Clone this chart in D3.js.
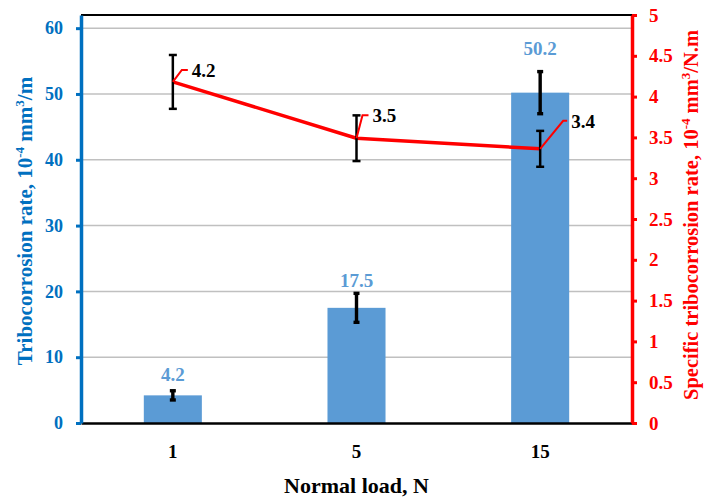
<!DOCTYPE html>
<html>
<head>
<meta charset="utf-8">
<script src="https://cdn.jsdelivr.net/npm/d3@7"></script>
</head>
<body style="margin:0;background:#fff">
<div id="chart"></div>
<script>
var loads = ["1", "5", "15"]
var rate = [4.2, 17.5, 50.2]           // tribocorrosion rate, 10^-4 mm3/m
var rateErr = [0.7, 2.2, 3.2]
var specific = [4.18, 3.49, 3.36]      // specific rate, 10^-4 mm3/N.m
var specificErr = [0.33, 0.28, 0.22]
var specificLabels = ["4.2", "3.5", "3.4"]
var leftTicks = [0, 10, 20, 30, 40, 50, 60]
var rightTicks = [0, 0.5, 1, 1.5, 2, 2.5, 3, 3.5, 4, 4.5, 5]

var width = 705, height = 498
var margin = {top: 15, left: 81, right: 73, bottom: 75}
var blue = "#0070C0", barBlue = "#5B9BD5", red = "#FF0000"
var serif = "Liberation Serif"
// manually placed labels (as in the original): bar label lift, leader ends
var barLabelLift = [14, 21, 38]
var labelOffsets = [[9, -12, 6], [6, -23, 6], [23, -28, 4]]

var svg = d3.select("#chart").append("svg")
	.attr("width", width).attr("height", height)
	.attr("font-family", serif).attr("font-weight", "bold")

var x = d3.scaleBand().domain(loads)
	.range([margin.left, width - margin.right]).paddingInner(0.684).paddingOuter(0.342)
var yL = d3.scaleLinear().domain([0, 62]).range([height - margin.bottom, margin.top])
var yR = d3.scaleLinear().domain([0, 5]).range([height - margin.bottom, margin.top])
var cx = function(d, i) { return x(loads[i]) + x.bandwidth() / 2 }

// gridlines
svg.append("g").selectAll("line").data(leftTicks.slice(1)).enter().append("line")
	.attr("x1", margin.left).attr("x2", width - margin.right)
	.attr("y1", function(d) { return yL(d) }).attr("y2", function(d) { return yL(d) })
	.attr("stroke", "#c0c0c0").attr("stroke-width", 1.5)

// top frame
svg.append("line")
	.attr("x1", margin.left).attr("x2", width - margin.right)
	.attr("y1", margin.top).attr("y2", margin.top)
	.attr("stroke", "#000").attr("stroke-width", 2)

// bars
svg.append("g").selectAll("rect").data(rate).enter().append("rect")
	.attr("x", function(d, i) { return x(loads[i]) })
	.attr("width", x.bandwidth())
	.attr("y", function(d) { return yL(d) })
	.attr("height", function(d) { return yL(0) - yL(d) })
	.attr("fill", barBlue)

function errorBars(g, vals, errs, scale, cap, sw) {
	var eb = g.append("g").selectAll("g").data(vals).enter().append("g")
		.attr("stroke", "#000").attr("stroke-width", sw)
	eb.append("line")
		.attr("x1", cx).attr("x2", cx)
		.attr("y1", function(d, i) { return scale(d + errs[i]) })
		.attr("y2", function(d, i) { return scale(d - errs[i]) })
	eb.append("line")
		.attr("x1", function(d, i) { return cx(d, i) - cap }).attr("x2", function(d, i) { return cx(d, i) + cap })
		.attr("y1", function(d, i) { return scale(d + errs[i]) })
		.attr("y2", function(d, i) { return scale(d + errs[i]) })
	eb.append("line")
		.attr("x1", function(d, i) { return cx(d, i) - cap }).attr("x2", function(d, i) { return cx(d, i) + cap })
		.attr("y1", function(d, i) { return scale(d - errs[i]) })
		.attr("y2", function(d, i) { return scale(d - errs[i]) })
}
errorBars(svg, rate, rateErr, yL, 3, 3.4)

// bar value labels
svg.append("g").selectAll("text").data(rate).enter().append("text")
	.attr("x", cx)
	.attr("y", function(d, i) { return yL(d) - barLabelLift[i] })
	.attr("text-anchor", "middle").attr("font-size", 19).attr("fill", barBlue)
	.text(function(d) { return d3.format(".1f")(d) })

// specific rate line
var line = d3.line().x(function(d, i) { return cx(d, i) }).y(function(d) { return yR(d) })
svg.append("path").datum(specific)
	.attr("d", line).attr("fill", "none")
	.attr("stroke", red).attr("stroke-width", 3.5).attr("stroke-linejoin", "round")

errorBars(svg, specific, specificErr, yR, 4, 2.5)

// leader lines and labels
var lab = svg.append("g").selectAll("g").data(specific).enter().append("g")
lab.append("path")
	.attr("d", function(d, i) {
		var px = cx(d, i), py = yR(d), o = labelOffsets[i]
		return "M" + px + "," + py + "L" + (px + o[0]) + "," + (py + o[1]) + "h" + o[2]
	})
	.attr("fill", "none").attr("stroke", red).attr("stroke-width", 2)
lab.append("text")
	.attr("x", function(d, i) { var o = labelOffsets[i]; return cx(d, i) + o[0] + o[2] + 4 })
	.attr("y", function(d, i) { return yR(d) + labelOffsets[i][1] + 7 })
	.attr("font-size", 19).attr("fill", "#000")
	.text(function(d, i) { return specificLabels[i] })

// axes
var xAxis = svg.append("g")
	.attr("transform", "translate(0," + yL(0) + ")")
	.call(d3.axisBottom(x).tickSize(0).tickPadding(22))
xAxis.select(".domain").attr("stroke", "#000").attr("stroke-width", 2.5)
xAxis.selectAll("text").attr("font-size", 19).attr("fill", "#000")

var lAxis = svg.append("g")
	.attr("transform", "translate(" + margin.left + ",0)")
	.call(d3.axisLeft(yL).tickValues(leftTicks).tickSize(5).tickPadding(13).tickSizeOuter(0))
lAxis.select(".domain").attr("stroke", blue).attr("stroke-width", 3.5)
lAxis.selectAll(".tick line").attr("stroke", blue).attr("stroke-width", 3)
lAxis.selectAll("text").attr("font-size", 18).attr("fill", blue)

var rAxis = svg.append("g")
	.attr("transform", "translate(" + (width - margin.right) + ",0)")
	.call(d3.axisRight(yR).tickValues(rightTicks).tickFormat(d3.format("~g"))
		.tickSize(5).tickPadding(12).tickSizeOuter(0))
rAxis.select(".domain").attr("stroke", red).attr("stroke-width", 3.5)
rAxis.selectAll(".tick line").attr("stroke", red).attr("stroke-width", 3)
rAxis.selectAll("text").attr("font-size", 19).attr("fill", red)

// axis titles
svg.append("text")
	.attr("x", (margin.left + width - margin.right) / 2).attr("y", 493)
	.attr("text-anchor", "middle").attr("font-size", 22).attr("fill", "#000")
	.text("Normal load, N")

function title(tx, ty, color, size, before, after) {
	var t = svg.append("text")
		.attr("transform", "translate(" + tx + "," + ty + ") rotate(-90)")
		.attr("text-anchor", "middle").attr("font-size", size).attr("fill", color)
	t.append("tspan").text(before + "10")
	t.append("tspan").attr("dy", -8).attr("font-size", 13).text("-4")
	t.append("tspan").attr("dy", 8).text(" mm")
	t.append("tspan").attr("dy", -8).attr("font-size", 13).text("3")
	t.append("tspan").attr("dy", 8).text(after)
}
title(32, 221, blue, 21, "Tribocorrosion rate, ", "/m")
title(698, 215, red, 20.5, "Specific tribocorrosion rate, ", "/N.m")

svg.selectAll("g").attr("font-family", null)
svg.selectAll("text").attr("font-family", serif).attr("font-weight", "bold")
</script>
</body>
</html>
